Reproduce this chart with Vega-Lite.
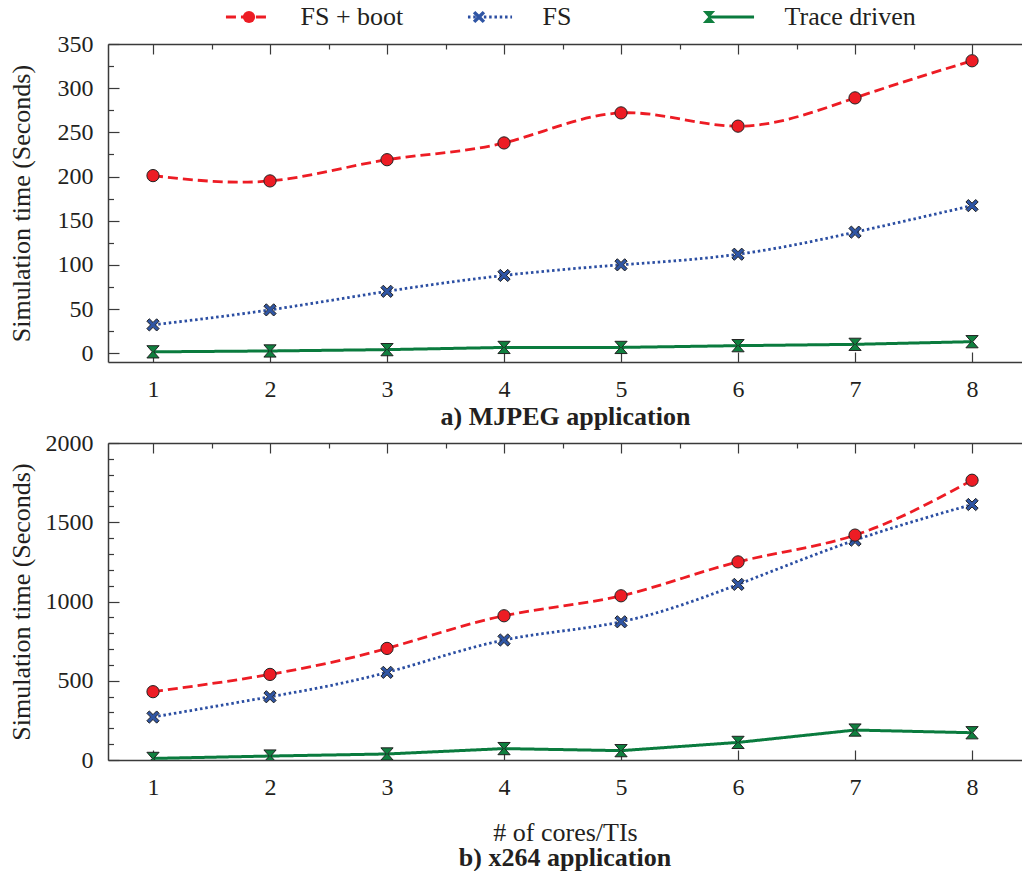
{
  "$schema": "https://vega.github.io/schema/vega-lite/v6.json",
  "padding": {"left": 8, "top": 4, "right": 0, "bottom": 0},
  "autosize": {"type": "pad"},
  "bounds": "flush",
  "spacing": 81,
  "datasets": {
    "mjpeg": [
      {"cores": 1, "series": "Trace driven", "time": 1.5},
      {"cores": 2, "series": "Trace driven", "time": 2.5},
      {"cores": 3, "series": "Trace driven", "time": 4},
      {"cores": 4, "series": "Trace driven", "time": 6.5},
      {"cores": 5, "series": "Trace driven", "time": 6.5},
      {"cores": 6, "series": "Trace driven", "time": 8.5},
      {"cores": 7, "series": "Trace driven", "time": 10},
      {"cores": 8, "series": "Trace driven", "time": 13},
      {"cores": 1, "series": "FS", "time": 32},
      {"cores": 2, "series": "FS", "time": 49},
      {"cores": 3, "series": "FS", "time": 70},
      {"cores": 4, "series": "FS", "time": 88},
      {"cores": 5, "series": "FS", "time": 100},
      {"cores": 6, "series": "FS", "time": 112},
      {"cores": 7, "series": "FS", "time": 137},
      {"cores": 8, "series": "FS", "time": 167},
      {"cores": 1, "series": "FS + boot", "time": 201},
      {"cores": 2, "series": "FS + boot", "time": 195},
      {"cores": 3, "series": "FS + boot", "time": 219},
      {"cores": 4, "series": "FS + boot", "time": 238},
      {"cores": 5, "series": "FS + boot", "time": 272},
      {"cores": 6, "series": "FS + boot", "time": 257},
      {"cores": 7, "series": "FS + boot", "time": 289},
      {"cores": 8, "series": "FS + boot", "time": 331}
    ],
    "x264": [
      {"cores": 1, "series": "Trace driven", "time": 10},
      {"cores": 2, "series": "Trace driven", "time": 25},
      {"cores": 3, "series": "Trace driven", "time": 38},
      {"cores": 4, "series": "Trace driven", "time": 72},
      {"cores": 5, "series": "Trace driven", "time": 59},
      {"cores": 6, "series": "Trace driven", "time": 111},
      {"cores": 7, "series": "Trace driven", "time": 189},
      {"cores": 8, "series": "Trace driven", "time": 172},
      {"cores": 1, "series": "FS", "time": 271},
      {"cores": 2, "series": "FS", "time": 399},
      {"cores": 3, "series": "FS", "time": 553},
      {"cores": 4, "series": "FS", "time": 757},
      {"cores": 5, "series": "FS", "time": 872},
      {"cores": 6, "series": "FS", "time": 1108},
      {"cores": 7, "series": "FS", "time": 1387},
      {"cores": 8, "series": "FS", "time": 1612},
      {"cores": 1, "series": "FS + boot", "time": 431},
      {"cores": 2, "series": "FS + boot", "time": 540},
      {"cores": 3, "series": "FS + boot", "time": 704},
      {"cores": 4, "series": "FS + boot", "time": 910},
      {"cores": 5, "series": "FS + boot", "time": 1036},
      {"cores": 6, "series": "FS + boot", "time": 1250},
      {"cores": 7, "series": "FS + boot", "time": 1419},
      {"cores": 8, "series": "FS + boot", "time": 1765}
    ]
  },
  "resolve": {"scale": {"color": "shared", "strokeDash": "shared", "fill": "shared", "shape": "shared"}},
  "vconcat": [
    {
      "width": 914,
      "height": 318,
      "data": {"name": "mjpeg"},
      "transform": [{"calculate": "datum.series", "as": "marker"}],
      "resolve": {"axis": {"x": "independent"}},
      "layer": [
        {
          "transform": [{"filter": "datum.series !== 'Trace driven'"}],
          "mark": {"type": "line", "interpolate": "natural", "strokeWidth": 2.8, "clip": true},
          "encoding": {
            "x": {"field": "cores", "type": "quantitative", "scale": {"domain": [0.6154, 8.427], "nice": false, "zero": false},
              "axis": {"orient": "bottom", "values": [1,1.5,2,2.5,3,3.5,4,4.5,5,5.5,6,6.5,7,7.5,8], "tickCount": 100, "format": "d", "labelExpr": "datum.value % 1 === 0 ? datum.label : ''", "labelOverlap": false,
                "tickSize": {"condition": {"test": "datum.value % 1 === 0", "value": -10}, "value": -5}, "labelPadding": 25,
                "title": "a) MJPEG application", "titleFontWeight": "bold", "titlePadding": 2}},
            "y": {"field": "time", "type": "quantitative", "scale": {"domain": [-10, 350], "nice": false, "zero": false},
              "axis": {"values": [0,25,50,75,100,125,150,175,200,225,250,275,300,325,350], "tickCount": 100, "format": "d", "labelExpr": "datum.value % 50 === 0 ? datum.label : ''", "labelOverlap": false,
                "labelFontSize": {"condition": {"test": "datum.value % 50 !== 0", "value": 1}, "value": 24},
                "tickSize": {"condition": {"test": "datum.value % 50 === 0", "value": -11}, "value": -5.5}, "labelPadding": 26,
                "title": "Simulation time (Seconds)", "minExtent": 62, "maxExtent": 62, "titlePadding": 12}},
            "color": {"field": "series", "type": "nominal",
              "scale": {"domain": ["FS + boot", "FS", "Trace driven"], "range": ["#ED1C24", "#2B4EA2", "#0A7B3E"]},
              "legend": {"orient": "none", "legendX": 127, "legendY": -40, "direction": "horizontal", "columns": 3, "gridAlign": "all", "symbolType": "M-3.6,0L3.6,0", "symbolSize": 150, "symbolStrokeWidth": 2.8, "labelOffset": 39.5, "columnPadding": 30, "title": null, "padding": 0}},
            "strokeDash": {"field": "series", "type": "nominal",
              "scale": {"domain": ["FS + boot", "FS", "Trace driven"], "range": [[10, 5], [2.5, 2.8], [1, 0]]},
              "legend": {"orient": "none", "legendX": 127, "legendY": -40, "direction": "horizontal", "columns": 3, "gridAlign": "all", "symbolType": "M-3.6,0L3.6,0", "symbolSize": 150, "symbolStrokeWidth": 2.8, "labelOffset": 39.5, "columnPadding": 30, "title": null, "padding": 0}}
          }
        },
        {
          "transform": [{"filter": "datum.series === 'Trace driven'"}],
          "mark": {"type": "line", "strokeWidth": 3, "clip": true},
          "encoding": {
            "x": {"field": "cores", "type": "quantitative", "axis": null},
            "y": {"field": "time", "type": "quantitative"},
            "color": {"field": "series", "type": "nominal"},
            "strokeDash": {"field": "series", "type": "nominal"}
          }
        },
        {
          "mark": {"type": "point", "filled": true, "size": 150, "stroke": "#222222", "strokeWidth": 1, "opacity": 1, "clip": true},
          "encoding": {
            "x": {"field": "cores", "type": "quantitative",
              "axis": {"orient": "top", "values": [1,1.5,2,2.5,3,3.5,4,4.5,5,5.5,6,6.5,7,7.5,8], "tickCount": 100, "labels": false,
                "tickSize": {"condition": {"test": "datum.value % 1 === 0", "value": -10}, "value": -5}, "title": null}},
            "y": {"field": "time", "type": "quantitative"},
            "fill": {"field": "marker", "type": "nominal",
              "scale": {"domain": ["FS", "FS + boot", "Trace driven"], "range": ["#2F55A4", "#ED1C24", "#10803F"]},
              "legend": {"orient": "none", "legendX": 127, "legendY": -40, "direction": "horizontal", "columns": 3, "gridAlign": "all", "values": ["FS + boot", "FS", "Trace driven"], "symbolSize": 150, "symbolStrokeColor": "#222222", "symbolStrokeWidth": 1, "symbolOffset": 1, "labelOffset": 41.5, "labelOpacity": 0, "columnPadding": 30, "title": null, "padding": 0}},
            "shape": {"field": "marker", "type": "nominal",
              "scale": {"domain": ["FS", "FS + boot", "Trace driven"], "range": ["M-1,-0.6L-0.6,-1L0,-0.4L0.6,-1L1,-0.6L0.4,0L1,0.6L0.6,1L0,0.4L-0.6,1L-1,0.6L-0.4,0Z", "circle", "M-1,-1L1,-1L0.12,0L1,1L-1,1L-0.12,0Z"]},
              "legend": {"orient": "none", "legendX": 127, "legendY": -40, "direction": "horizontal", "columns": 3, "gridAlign": "all", "values": ["FS + boot", "FS", "Trace driven"], "symbolSize": 150, "symbolStrokeColor": "#222222", "symbolStrokeWidth": 1, "symbolOffset": 1, "labelOffset": 41.5, "labelOpacity": 0, "columnPadding": 30, "title": null, "padding": 0}}
          }
        }
      ]
    },
    {
      "width": 914,
      "height": 317,
      "data": {"name": "x264"},
      "transform": [{"calculate": "datum.series", "as": "marker"}],
      "resolve": {"axis": {"x": "independent"}},
      "title": {"text": "b) x264 application", "orient": "bottom", "fontWeight": "bold", "font": "Liberation Serif", "fontSize": 26, "color": "#231F20", "offset": 0},
      "layer": [
        {
          "transform": [{"filter": "datum.series !== 'Trace driven'"}],
          "mark": {"type": "line", "interpolate": "natural", "strokeWidth": 2.8, "clip": true},
          "encoding": {
            "x": {"field": "cores", "type": "quantitative", "scale": {"domain": [0.6154, 8.427], "nice": false, "zero": false},
              "axis": {"orient": "bottom", "values": [1,1.5,2,2.5,3,3.5,4,4.5,5,5.5,6,6.5,7,7.5,8], "tickCount": 100, "format": "d", "labelExpr": "datum.value % 1 === 0 ? datum.label : ''", "labelOverlap": false,
                "tickSize": {"condition": {"test": "datum.value % 1 === 0", "value": -10}, "value": -5}, "labelPadding": 25,
                "title": "# of cores/TIs", "titlePadding": 20}},
            "y": {"field": "time", "type": "quantitative", "scale": {"domain": [0, 2000], "nice": false, "zero": false},
              "axis": {"values": [0,100,200,300,400,500,600,700,800,900,1000,1100,1200,1300,1400,1500,1600,1700,1800,1900,2000], "tickCount": 100, "format": "d", "labelExpr": "datum.value % 500 === 0 ? datum.label : ''", "labelOverlap": false,
                "labelFontSize": {"condition": {"test": "datum.value % 500 !== 0", "value": 1}, "value": 24},
                "tickSize": {"condition": {"test": "datum.value % 500 === 0", "value": -11}, "value": -5.5}, "labelPadding": 26,
                "title": "Simulation time (Seconds)", "minExtent": 62, "maxExtent": 62, "titlePadding": 12}},
            "color": {"field": "series", "type": "nominal"},
            "strokeDash": {"field": "series", "type": "nominal"}
          }
        },
        {
          "transform": [{"filter": "datum.series === 'Trace driven'"}],
          "mark": {"type": "line", "strokeWidth": 3, "clip": true},
          "encoding": {
            "x": {"field": "cores", "type": "quantitative", "axis": null},
            "y": {"field": "time", "type": "quantitative"},
            "color": {"field": "series", "type": "nominal"},
            "strokeDash": {"field": "series", "type": "nominal"}
          }
        },
        {
          "mark": {"type": "point", "filled": true, "size": 150, "stroke": "#222222", "strokeWidth": 1, "opacity": 1, "clip": true},
          "encoding": {
            "x": {"field": "cores", "type": "quantitative",
              "axis": {"orient": "top", "values": [1,1.5,2,2.5,3,3.5,4,4.5,5,5.5,6,6.5,7,7.5,8], "tickCount": 100, "labels": false,
                "tickSize": {"condition": {"test": "datum.value % 1 === 0", "value": -10}, "value": -5}, "title": null}},
            "y": {"field": "time", "type": "quantitative"},
            "fill": {"field": "marker", "type": "nominal"},
            "shape": {"field": "marker", "type": "nominal"}
          }
        }
      ]
    }
  ],
  "config": {
    "font": "Liberation Serif",
    "view": {"stroke": null},
    "axis": {
      "labelFont": "Liberation Serif", "labelFontSize": 24, "labelColor": "#231F20", "labelOverlap": false,
      "titleFont": "Liberation Serif", "titleFontSize": 26, "titleColor": "#231F20", "titleFontWeight": "normal",
      "domainColor": "#3a3a3a", "domainWidth": 1.5, "tickColor": "#3a3a3a", "tickWidth": 1.2, "grid": false
    },
    "legend": {"labelFont": "Liberation Serif", "labelFontSize": 26, "labelColor": "#231F20", "labelLimit": 400}
  }
}
